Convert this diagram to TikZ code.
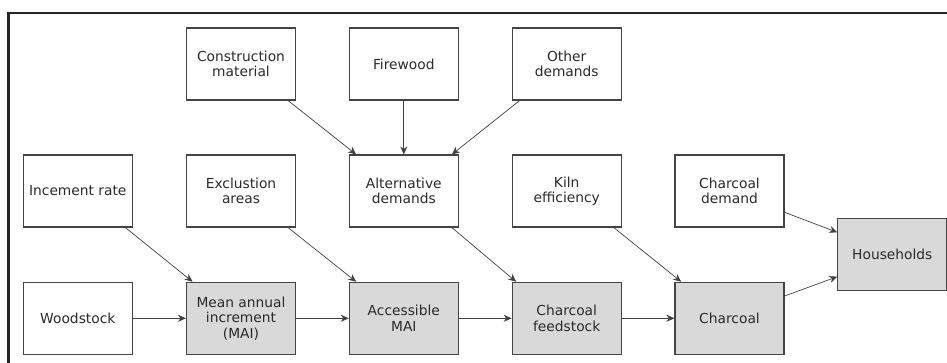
\documentclass[tikz,border=0pt]{standalone}
\usepackage{fontspec}
\setmainfont{DejaVu Sans}
\usetikzlibrary{arrows.meta}
\definecolor{boxline}{HTML}{444444}
\definecolor{boxfill}{HTML}{D9D9D9}
\definecolor{txt}{HTML}{2A2A2A}
\tikzset{
  box/.style={draw=boxline, line width=1.1pt, minimum width=109pt, minimum height=72pt,
    inner sep=0pt, align=center, text=txt, font=\fontsize{13.8}{15.6}\selectfont},
  gbox/.style={box, fill=boxfill},
  arr/.style={draw=black!75, line width=0.7pt, -{Stealth[length=8pt,width=7pt]}},
}
\begin{document}
\begin{tikzpicture}[x=1pt,y=-1pt]
\useasboundingbox (0,0) rectangle (947,363);
\draw[line width=2.2pt, draw=black!85] (8.5,364) -- (8.5,13) -- (948,13);
% top row
\node[box] (cm) at (241,64) {Construction\\material};
\node[box] (fw) at (403.8,64) {Firewood};
\node[box] (od) at (566.7,64) {Other\\demands};
% middle row
\node[box] (ir) at (77.8,191) {Incement rate};
\node[box] (ex) at (241,191) {Exclustion\\areas};
\node[box] (ad) at (403.8,191) {Alternative\\demands};
\node[box] (ke) at (566.7,191) {Kiln\\efficiency};
\node[box] (cd) at (729.5,191) {Charcoal\\demand};
% bottom row
\node[box] (ws) at (77.8,318.3) {Woodstock};
\node[gbox] (mai) at (241,318.3) {Mean annual\\increment\\(MAI)};
\node[gbox] (am) at (403.8,318.3) {Accessible\\MAI};
\node[gbox] (cf) at (566.7,318.3) {Charcoal\\feedstock};
\node[gbox] (ch) at (729.5,318.3) {Charcoal};
\node[gbox] (hh) at (892.3,254.7) {Households};
% arrows
\draw[arr] ([xshift=-8pt]cm.south east) -- ([xshift=7.4pt]ad.north west);
\draw[arr] (fw.south) -- (ad.north);
\draw[arr] ([xshift=8pt]od.south west) -- ([xshift=-7pt]ad.north east);
\draw[arr] ([xshift=-7.5pt]ir.south east) -- ([xshift=6.6pt]mai.north west);
\draw[arr] ([xshift=-8pt]ex.south east) -- ([xshift=7.4pt]am.north west);
\draw[arr] ([xshift=-7pt]ad.south east) -- ([xshift=4.5pt]cf.north west);
\draw[arr] ([xshift=-8pt]ke.south east) -- ([xshift=6.7pt]ch.north west);
\draw[arr] ([yshift=-21.3pt]cd.east) -- ([yshift=22.4pt]hh.west);
\draw[arr] ([yshift=22.3pt]ch.east) -- ([yshift=-22pt]hh.west);
\draw[arr] (ws) -- (mai);
\draw[arr] (mai) -- (am);
\draw[arr] (am) -- (cf);
\draw[arr] (cf) -- (ch);
\end{tikzpicture}
\end{document}
